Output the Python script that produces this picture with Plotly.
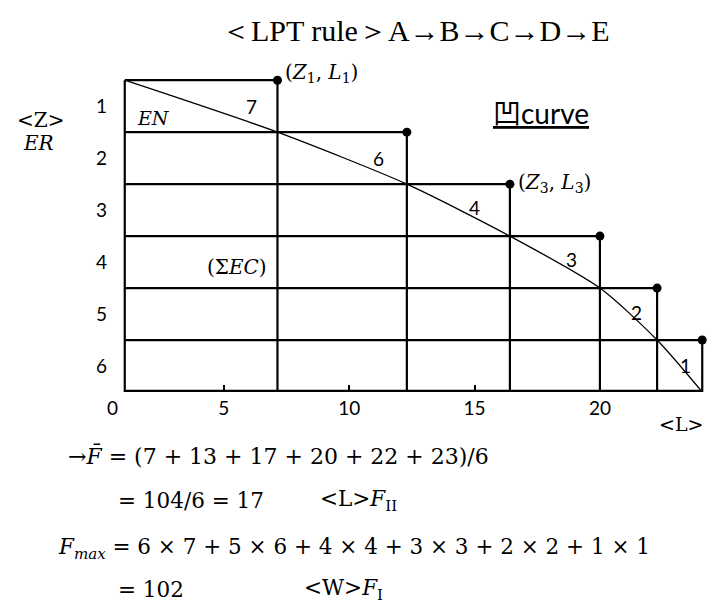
import plotly.graph_objects as go

# ---------------- data ----------------
row_labels = ["1", "2", "3", "4", "5", "6"]
start_L = 1.05
end_L = [7.14, 12.30, 16.41, 20.0, 22.28, 24.08]
task_times = [7, 6, 4, 3, 2, 1]
x_ticks = [5, 10, 15, 20]
title_text = "＜LPT rule＞A→B→C→D→E"

n_rows = len(row_labels)

# ---------------- layout constants ----------------
W, H = 708, 611
M = dict(l=121, r=0, t=75, b=219)
X_RANGE = [0.9, 24.31]
Y_RANGE = [6.0, -0.1]


def px(x):
    return (x - M["l"]) / (W - M["l"] - M["r"])


def py(y):
    return (H - M["b"] - y) / (H - M["t"] - M["b"])


SERIF = "Liberation Serif"
MATH = "DejaVu Serif"
SANS = "Lato"

fig = go.Figure()

# grid of rows / stations
gx, gy = [], []
for k in range(n_rows):
    gx += [start_L, end_L[k], None]
    gy += [k, k, None]
    gx += [end_L[k], end_L[k], None]
    gy += [k, n_rows, None]
gx += [start_L, start_L, None]
gy += [0, n_rows, None]
fig.add_trace(go.Scatter(x=gx, y=gy, mode="lines",
                         line=dict(color="black", width=2.2),
                         hoverinfo="skip", showlegend=False))
# bottom frame line (sits on the plot edge, half is clipped)
fig.add_trace(go.Scatter(x=[start_L, end_L[-1]], y=[n_rows, n_rows], mode="lines",
                         line=dict(color="black", width=4.4),
                         hoverinfo="skip", showlegend=False))

# curve through the station corners
fig.add_trace(go.Scatter(x=[start_L] + end_L, y=list(range(n_rows + 1)),
                         mode="lines", line=dict(color="black", width=1.3, shape="spline", smoothing=0.7),
                         hoverinfo="skip", showlegend=False))

# station end dots
fig.add_trace(go.Scatter(x=end_L, y=list(range(n_rows)), mode="markers",
                         marker=dict(color="black", size=9), cliponaxis=False,
                         hoverinfo="skip", showlegend=False))

ann = []
# task time labels along the curve
xshifts = [-26, -28, -35, -28, -21, -17]
yshifts = [0, 0, 3, 3, 2, 1]
for k, t in enumerate(task_times):
    ann.append(dict(x=end_L[k], y=k + 0.5, xref="x", yref="y", text=str(t),
                    showarrow=False, xshift=xshifts[k], yshift=yshifts[k],
                    font=dict(family=SANS, size=19, color="black")))

# point labels
ann.append(dict(x=end_L[0], y=0, xref="x", yref="y", xanchor="left", yanchor="middle",
                text="(<i>Z</i><sub>1</sub>, <i>L</i><sub>1</sub>)", showarrow=False,
                xshift=6, yshift=7, font=dict(family=MATH, size=20, color="black")))
ann.append(dict(x=end_L[2], y=2, xref="x", yref="y", xanchor="left", yanchor="middle",
                text="(<i>Z</i><sub>3</sub>, <i>L</i><sub>3</sub>)", showarrow=False,
                xshift=6, yshift=1, font=dict(family=MATH, size=20, color="black")))


def add_text(x, y, text, family, size, xanchor="center"):
    ann.append(dict(x=px(x), y=py(y), xref="paper", yref="paper", text=text,
                    xanchor=xanchor, yanchor="middle", showarrow=False,
                    font=dict(family=family, size=size, color="black")))


add_text(153, 118, "<i>EN</i>", MATH, 19)
add_text(237, 267, "(Σ<i>EC</i>)", MATH, 20)
add_text(541, 113, "<u>凹curve</u>", SANS + ", Noto Sans CJK SC", 28)
add_text(40, 120, "&lt;Z&gt;", MATH, 20)
add_text(38, 143, "<i>ER</i>", MATH, 20)
add_text(681, 424, "&lt;L&gt;", MATH, 19)
add_text(112, 408, "0", SANS, 19)
add_text(416, 30, title_text, SERIF, 30)

# formulas
FS = 21.5
add_text(66, 456, "→<i>F̄</i> = (7 + 13 + 17 + 20 + 22 + 23)/6", MATH, 22, "left")
add_text(116, 500, "= 104/6 = 17", MATH, FS, "left")
add_text(318, 500, "&lt;L&gt;<i>F</i><sub>II</sub>", MATH, FS, "left")
add_text(56, 548, "<i>F</i><sub><i>max</i></sub> = 6 × 7 + 5 × 6 + 4 × 4 + 3 × 3 + 2 × 2 + 1 × 1", MATH, FS, "left")
add_text(116, 589, "= 102", MATH, FS, "left")
add_text(302, 589, "&lt;W&gt;<i>F</i><sub>I</sub>", MATH, FS, "left")

fig.update_layout(
    width=W, height=H, margin=M,
    paper_bgcolor="white", plot_bgcolor="white",
    showlegend=False, annotations=ann,
    xaxis=dict(range=X_RANGE, tickvals=x_ticks, ticks="inside", ticklen=7, tickwidth=2,
               tickcolor="black", showgrid=False, zeroline=False, showline=False,
               tickfont=dict(family=SANS, size=19, color="black"), ticklabelstandoff=3,
               fixedrange=True),
    yaxis=dict(range=Y_RANGE, tickvals=[i + 0.5 for i in range(n_rows)], ticktext=row_labels,
               ticks="", showgrid=False, zeroline=False, showline=False,
               tickfont=dict(family=SANS, size=19, color="black"), ticklabelstandoff=13,
               fixedrange=True),
)

fig.write_html(
    "out.html",
    config={"displayModeBar": False},
    post_script="document.body.style.margin='0';document.body.style.overflow='hidden';",
)
